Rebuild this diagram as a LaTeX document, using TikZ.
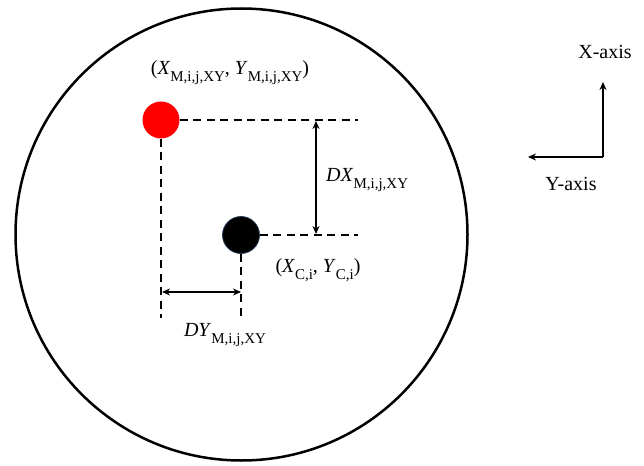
\documentclass[tikz,border=0pt]{standalone}
\usepackage{fontspec}
\setmainfont{Liberation Serif}
\usetikzlibrary{arrows.meta}
\newcommand\lowsub[1]{\raisebox{-0.35em}{\fontsize{15}{15}\selectfont #1}}
\begin{document}
\begin{tikzpicture}[x=1pt,y=-1pt,
  lbl/.style={font=\fontsize{20}{22}\selectfont, inner sep=0pt},
  dsh/.style={line width=2.5pt, dash pattern=on 8pt off 5.5pt},
  dim/.style={line width=2pt, {Stealth[length=8pt,width=7pt]}-{Stealth[length=8pt,width=7pt]}},
  ax/.style={line width=2pt, -{Stealth[length=8pt,width=7pt]}},
  dot/.style={circle, minimum size=37pt, inner sep=0pt}]
\useasboundingbox (0,0) rectangle (644,465);
\node[circle, draw, line width=2.5pt, minimum size=452pt, inner sep=0pt] (big) at (241.5,234.5) {};
\node[dot, fill=red] (red) at (161,120) {};
\node[dot, fill=black, draw={rgb,255:red,40;green,60;blue,90}, line width=0.8pt] (blk) at (241,235) {};
% dashed guides
\coordinate (rEnd) at (358,120);
\coordinate (bEnd) at (358,235);
\coordinate (rDown) at (161,318);
\coordinate (bDown) at (241,318);
\draw[dsh] (red.east) -- (rEnd);
\draw[dsh] (blk.east) -- (bEnd);
\draw[dsh] (red.south) -- (rDown);
\draw[dsh] (blk.south) -- (bDown);
% dimension arrows
\coordinate (dxA) at (316,121);
\coordinate (dxB) at (316,234);
\coordinate (dyA) at (162,292);
\coordinate (dyB) at (241,292);
\draw[dim] (dxA) -- (dxB);
\draw[dim] (dyA) -- (dyB);
% labels
\node[lbl] (lm) at (230,73) {(\textit{X}\lowsub{M,i,j,XY}, \textit{Y}\lowsub{M,i,j,XY})};
\node[lbl] (lc) at (318,270) {(\textit{X}\lowsub{C,i}, \textit{Y}\lowsub{C,i})};
\node[lbl, anchor=west] (ldx) at (326,180) {\textit{DX}\lowsub{M,i,j,XY}};
\node[lbl] (ldy) at (225,335) {\textit{DY}\lowsub{M,i,j,XY}};
% axes
\coordinate (o) at (603,157);
\coordinate (xa) at (603,82);
\coordinate (ya) at (528,157);
\draw[ax] (o) -- (xa);
\draw[ax] (o) -- (ya);
\node[lbl] (xl) at (605,52) {X-axis};
\node[lbl] (yl) at (571,184) {Y-axis};
\end{tikzpicture}
\end{document}
